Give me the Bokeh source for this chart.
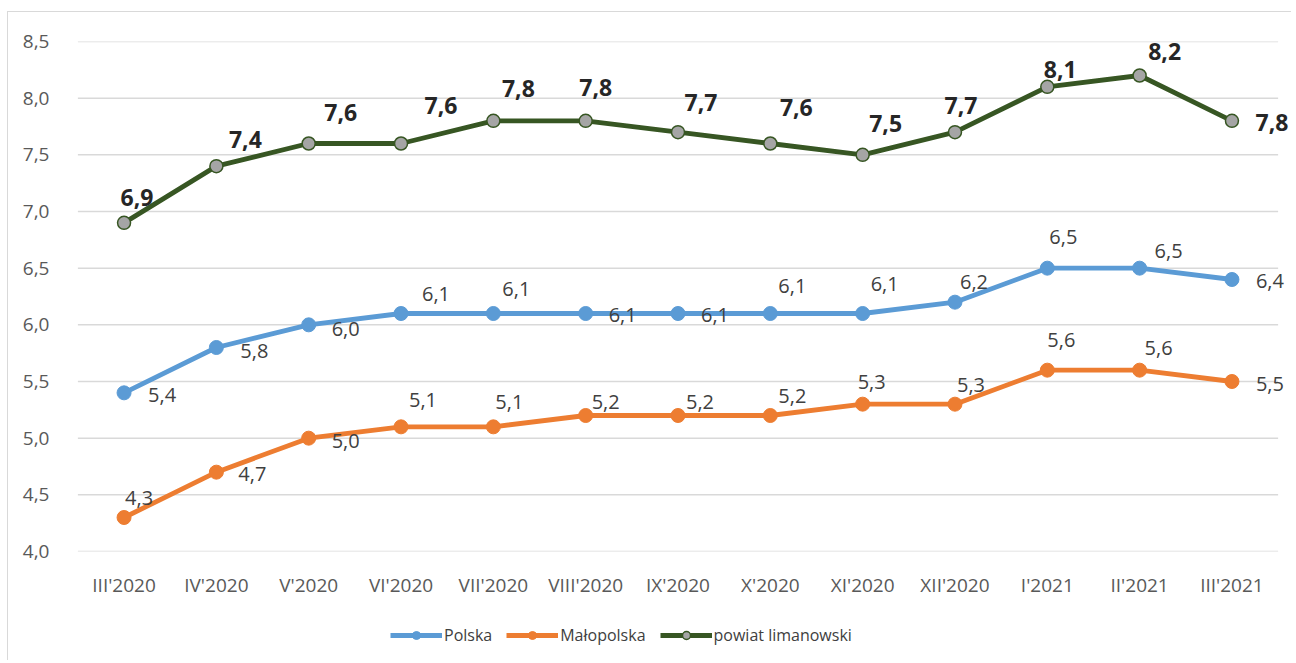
from bokeh.plotting import figure
from bokeh.layouts import column
from bokeh.models import (ColumnDataSource, FactorRange, Range1d, FixedTicker,
                          CustomJSTickFormatter, Legend, LegendItem)
from bokeh.core.properties import value
from bokeh.embed import file_html
from bokeh.resources import INLINE

# ---- data ----
months = ["III'2020", "IV'2020", "V'2020", "VI'2020", "VII'2020", "VIII'2020", "IX'2020",
          "X'2020", "XI'2020", "XII'2020", "I'2021", "II'2021", "III'2021"]
polska = [5.4, 5.8, 6.0, 6.1, 6.1, 6.1, 6.1, 6.1, 6.1, 6.2, 6.5, 6.5, 6.4]
malopolska = [4.3, 4.7, 5.0, 5.1, 5.1, 5.2, 5.2, 5.2, 5.3, 5.3, 5.6, 5.6, 5.5]
powiat = [6.9, 7.4, 7.6, 7.6, 7.8, 7.8, 7.7, 7.6, 7.5, 7.7, 8.1, 8.2, 7.8]
series_names = ["Polska", "Małopolska", "powiat limanowski"]
y_ticks = [4.0, 4.5, 5.0, 5.5, 6.0, 6.5, 7.0, 7.5, 8.0, 8.5]

# ---- label placement (screen px offsets, styling only) ----
pol_dx = [38, 38, 37, 35, 23, 37, 37, 22, 22, 19, 16, 29, 38]
pol_dy = [2, 3, 4, -20, -25, 1, 1, -28, -30, -20, -31, -17, 1]
mal_dx = [15, 36, 37, 22, 16, 20, 22, 22, 9, 16, 14, 19, 38]
mal_dy = [-20, 2, 3, -27, -25, -14, -14, -20, -22, -19, -30, -22, 2]
pow_dx = [13, 29, 32, 40, 25, 10, 23, 26, 23, 6, 13, 25, 40]
pow_dy = [-25, -27, -31, -38, -32, -33, -30, -36, -31, -27, -17, -24, 2]

BLUE = "#5B9BD5"
ORANGE = "#ED7D31"
GREEN = "#375623"
GREY = "#A5A5A5"
FONT = "Open Sans"


def fmt(v):
    return f"{v:.1f}".replace(".", ",")


xr = FactorRange(*months, range_padding=0.145, range_padding_units="absolute")
p = figure(x_range=xr, y_range=Range1d(4.0, 8.5),
           width=1283, height=588, output_backend="svg", toolbar_location=None,
           min_border_left=56, min_border_right=0, min_border_top=29,
           min_border_bottom=46)
p.outline_line_color = None
p.background_fill_color = "white"
p.border_fill_color = "white"

# horizontal gridlines spanning exactly the category band
p.grid.grid_line_color = None
p.segment(x0=0, x1=len(months), y0=y_ticks, y1=y_ticks, line_color="#d9d9d9", line_width=1.5)

p.yaxis.ticker = FixedTicker(ticks=y_ticks)
p.yaxis.formatter = CustomJSTickFormatter(code="return tick.toFixed(1).replace('.', ',');")

for ax in (p.xaxis, p.yaxis):
    ax.axis_line_color = None
    ax.major_tick_line_color = None
    ax.minor_tick_line_color = None
    ax.major_label_text_font = FONT
    ax.major_label_text_font_size = "19px"
    ax.major_label_text_color = "#595959"
p.xaxis.major_label_standoff = 14
p.yaxis.major_label_standoff = 9

series = [
    (polska, BLUE, BLUE, pol_dx, pol_dy, "normal", "20px", "#404040"),
    (malopolska, ORANGE, ORANGE, mal_dx, mal_dy, "normal", "20px", "#404040"),
    (powiat, GREEN, GREY, pow_dx, pow_dy, "bold", "23px", "#262626"),
]

# legend strip below the chart (its y range lies far from the data, so only swatches show)
lg = figure(x_range=FactorRange(*months), y_range=Range1d(100, 101), width=1283, height=60,
            output_backend="svg", toolbar_location=None,
            min_border_left=0, min_border_right=0, min_border_top=0, min_border_bottom=0)
lg.axis.visible = False
lg.grid.grid_line_color = None
lg.outline_line_color = None
lg.background_fill_color = "white"
lg.border_fill_color = "white"

items = []
for name, (vals, lc, fc, dx, dy, fw, fs, tc) in zip(series_names, series):
    src = ColumnDataSource(dict(x=months, y=vals, lab=[fmt(v) for v in vals], dx=dx, dy=dy))
    p.line("x", "y", source=src, line_color=lc, line_width=4.8)
    if fc == GREY:
        p.scatter("x", "y", source=src, size=13, fill_color=fc, line_color=lc, line_width=1.5)
    else:
        p.scatter("x", "y", source=src, size=14, fill_color=fc, line_color=lc, line_width=1)
    p.text("x", "y", text="lab", source=src, x_offset="dx", y_offset="dy",
           text_align="center", text_baseline="middle", text_font=value(FONT),
           text_font_size=fs, text_font_style=fw, text_color=tc)
    l1 = lg.line("x", "y", source=src, line_color=lc, line_width=4.8)
    l2 = lg.scatter("x", "y", source=src, size=11 if fc == GREY else 12, fill_color=fc,
                    line_color=lc, line_width=1.5 if fc == GREY else 1)
    items.append(LegendItem(label=name, renderers=[l1, l2]))

legend = Legend(items=items, orientation="horizontal", location=(326, 14),
                label_text_font=FONT, label_text_font_size="16px", label_text_color="#404040",
                glyph_width=52, glyph_height=20, label_standoff=2, spacing=14,
                padding=0, margin=0, border_line_color=None, background_fill_alpha=0)
lg.add_layout(legend, "center")

layout = column(p, lg, spacing=0,
                styles={"margin-left": "7px", "margin-top": "11px",
                        "border-left": "1px solid #d9d9d9", "border-top": "1px solid #d9d9d9"})

open("out.html", "w").write(file_html(layout, INLINE))
